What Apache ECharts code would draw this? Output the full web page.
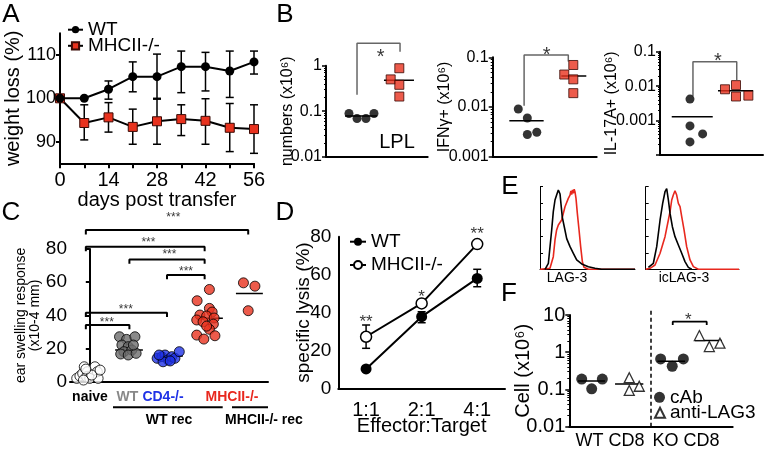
<!DOCTYPE html>
<html><head><meta charset="utf-8">
<script src="https://cdn.jsdelivr.net/npm/echarts@6/dist/echarts.min.js"></script>
<style>html,body{margin:0;padding:0;background:#fff}#c{width:767px;height:451px}</style>
</head><body><div id="c"></div>
<script>
// ================= DATA =================
// Panel A: weight (%) vs days post transfer
const aDays = [0, 7, 14, 21, 28, 35, 42, 49, 56];
const aWT   = [100, 100, 102.1, 105, 105, 107.3, 107.3, 106.3, 108.4];
const aWTHi = [100, 100, 104, 108.4, 110.2, 110.9, 110.6, 110.9, 110.9];
const aWTLo = [100, 100, 99.8, 101.5, 99.8, 101.3, 101.7, 100.2, 105.6];
const aKO   = [100, 94.3, 95.6, 93.4, 94.7, 95.2, 94.8, 93.2, 92.9];
const aKOHi = [100, 98.5, 99, 97.5, 100, 98.5, 99.9, 98.8, 98.5];
const aKOLo = [100, 90.4, 92.2, 89.4, 89.4, 91.4, 89.4, 87.7, 87.3];
const aYTicks = [90, 100, 110];

// Panel B (x10^6)
const b1WT = [0.089, 0.069, 0.069, 0.089];
const b1KO = [0.50, 0.88, 0.38, 0.21];
const b1Mean = [0.078, 0.48];
const b2WT = [0.0091, 0.006, 0.0028, 0.0031];
const b2KO = [0.045, 0.070, 0.036, 0.019];
const b2Mean = [0.0053, 0.042];
const b3WT = [0.0042, 0.0007, 0.00041, 0.00024];
const b3KO = [0.0081, 0.0107, 0.0050, 0.0053];
const b3Mean = [0.0013, 0.0074];

// Panel C: ear swelling response (x10-4 mm)
const cGroups = ['naive', 'WT', 'CD4-/-', 'MHCII-/-', 'MHCII-/- rec'];
const cNaive = [2.0, 3.4, 5.0, 9.0, 6.0, 3.0, 2.0, 9.0, 6.0, 2.0, 1.0, 4.0, 7.6, 7.0];
const cWT    = [27.1, 25.5, 27.1, 22.1, 21.1, 18.1, 19.1, 16.7, 16.1, 17.1, 22.1];
const cCD4   = [14.1, 15.1, 16.1, 13.1, 15.1, 14.1, 18.1, 12.0, 12.5, 16.1];
const cMHC   = [55.6, 48.8, 44.2, 42.0, 40.2, 39.6, 38.4, 37.2, 36.1, 34.7, 31.6, 28.1, 25.7, 27.7, 33.5];
const cRec   = [59.6, 57.6, 42.8];
const cMean  = [19.1, 15.5, 38.2, 53.2];

// Panel D: specific lysis (%)
const dCats = ['1:1', '2:1', '4:1'];
const dWT   = [10.2, 37.8, 58.0];
const dWTHi = [11.2, 40.4, 62.8];
const dWTLo = [9.2, 34.6, 53.6];
const dKO   = [27.2, 44.8, 76.1];
const dKOHi = [33.4, 46.3, 77.1];
const dKOLo = [21.1, 43.3, 75.1];
const dSig  = ['**', '*', '**'];

// Panel E: histograms [channel, % of max]
const e1Black = [[5.3,0],[8.8,7.3],[12.3,47.6],[14,69.8],[15.8,83.9],[17.5,89.9],[19.3,96],[20.4,96.8],[21.1,91.1],[22.1,79],[23.5,62.9],[25.6,51.2],[28.1,37.1],[31.6,27.4],[35.1,19.4],[38.6,11.3],[43.9,6.5],[50.9,3.2],[57.9,1.2],[64.9,0],[100,0]];
const e1Red = [[0,0],[10.5,1.2],[14,15.3],[15.8,35.5],[17.5,47.6],[19.3,53.6],[22.8,59.7],[26.3,75.8],[29.8,85.9],[31.6,89.9],[32.5,95],[33.3,90.5],[34.2,96],[35.1,91.9],[36,97],[36.8,93.9],[37.9,85.9],[39.3,67.7],[41.1,47.6],[42.8,27.4],[44.6,9.3],[46.3,2.4],[50.9,0],[100,0]];
const e2Black = [[2.9,2.4],[8.2,7.3],[11.8,27.4],[15.4,59.7],[18.2,79.8],[20.7,93.9],[22.5,97.6],[24.3,83.9],[26.1,67.7],[28.6,51.6],[31.4,39.5],[35,29.4],[38.6,19.4],[42.1,9.3],[45.7,2.4],[49.3,0]];
const e2Red = [[0,0],[4.6,1.2],[10,5.2],[15.4,19.4],[20.7,39.5],[24.3,59.7],[26.1,69.8],[27.9,83.9],[29.6,89.9],[31.4,95.2],[33.2,89.9],[35,79.8],[36.8,75.8],[37.7,78],[38.6,63.7],[41.1,47.6],[43.9,27.4],[47.5,11.3],[51.1,3.2],[56.4,0],[100,0]];

// Panel F: Cell (x10^6)
const fWTcAb = [0.19, 0.104, 0.19];
const fWTLag = [0.207, 0.094, 0.122];
const fKOcAb = [0.66, 0.42, 0.66];
const fKOLag = [2.8, 1.42, 1.75];
const fMean  = [0.168, 0.14, 0.57, 2.06];

// ================= LAYOUT (positions in axis units) =================
const FONT = '"Liberation Sans", Arial, Helvetica, sans-serif';
const RED = '#e8321e';
const b1Lay = {wx:[2.26,3.05,3.93,4.72], kx:[6.36,7.21,7.21,7.21], spans:[[1.87,5.01],[5.7,8.65]], br:[3.05,7.28,0.23,3.1,2.03], star:[5.38,2.0]};
const b2Lay = {wx:[2.46,3.33,3.33,4.24], kx:[6.88,7.75,7.75,7.75], spans:[[1.6,4.9],[6.6,9.0]], br:[3.02,7.27,0.0106,0.111,0.082], star:[5.19,0.136]};
const b3Lay = {wx:[2.91,2.91,4.14,2.91], kx:[6.31,7.38,7.38,8.58], spans:[[1.14,5.12],[5.63,9.05]], br:[3.2,7.45,0.005,0.051,0.015], star:[5.63,0.0736]};
const cJit = [
  [-0.33,-0.25,-0.18,-0.14,-0.06,-0.08,0.0,0.13,0.19,0.21,-0.16,0.05,-0.1,0.26],
  [0.75,0.93,1.14,0.81,0.97,0.86,1.06,0.78,0.97,1.17,1.1],
  [1.70,1.82,1.90,1.98,2.07,2.15,2.26,1.85,2.03,1.75],
  [3.02,2.71,3.02,3.09,2.78,2.95,3.14,2.70,2.86,3.12,3.02,2.70,2.88,3.16,2.95],
  [3.88,4.17,4.0]
];
const cSpans = [[0.64,1.34],[1.69,2.35],[2.70,3.36],[3.69,4.37]];
const cBrackets = [[-0.1,4.0,91.4],[-0.1,2.9,81.3],[1.0,2.9,73.7],[1.95,2.9,64.3],[-0.1,1.95,41.6],[-0.1,1.0,34.2]];
const cStars = [[2.11,100.7],[1.48,85.4],[2.01,78.4],[2.43,68.4],[0.91,45.2],[0.43,37.2]];
const dStarY = [36.9, 50.1, 83.2];
const fX = [[0.76,1.37,2.02],[3.67,3.67,4.28],[5.59,6.30,6.98],[7.96,8.57,9.22]];
const fSpans = [[0.53,2.18],[2.80,4.53],[5.39,7.08],[7.69,9.33]];

// ================= HELPERS =================
const pair = (xs, ys) => ys.map((v, i) => [xs[i], v]);
function errRender(capHalf) {
  return function (params, api) {
    const x = api.value(0), lo = api.value(1), hi = api.value(2);
    const a = api.coord([x, hi]), b = api.coord([x, lo]);
    const st = {stroke: '#000', lineWidth: 1.5};
    return {type: 'group', children: [
      {type: 'line', shape: {x1: a[0], y1: a[1], x2: b[0], y2: b[1]}, style: st},
      {type: 'line', shape: {x1: a[0]-capHalf, y1: a[1], x2: a[0]+capHalf, y2: a[1]}, style: st},
      {type: 'line', shape: {x1: b[0]-capHalf, y1: b[1], x2: b[0]+capHalf, y2: b[1]}, style: st}
    ]};
  };
}
function segLine(gi, pts, color, width, dash) {
  return {type: 'line', xAxisIndex: gi, yAxisIndex: gi, data: pts, symbol: 'none', clip: false, silent: true,
    lineStyle: {color: color, width: width, type: dash || 'solid'}, z: 1, animation: false};
}
function starSeries(gi, pts, texts, size, offY) {
  return {type: 'scatter', xAxisIndex: gi, yAxisIndex: gi, symbolSize: 1, clip: false, silent: true,
    itemStyle: {color: 'rgba(0,0,0,0)'},
    data: pts.map((p, i) => ({value: p, label: {formatter: texts[i]}})),
    label: {show: true, position: 'inside', color: '#000', fontSize: size, fontFamily: FONT, offset: [0, offY]}};
}
const axLine = (w) => ({show: true, lineStyle: {color: '#000', width: w}});
const hiddenX = (gi, min, max) => ({gridIndex: gi, type: 'value', min: min, max: max, axisLine: axLine(2),
  axisTick: {show: false}, axisLabel: {show: false}, splitLine: {show: false}});
function logY(gi, min, max, name, gap, fmt) {
  return {gridIndex: gi, type: 'log', logBase: 10, min: min, max: max,
    axisLine: axLine(2), axisTick: {length: 4, lineStyle: {width: 1.5, color: '#000'}},
    minorTick: {show: true, splitNumber: 9, length: 2, lineStyle: {color: '#000', width: 1}},
    axisLabel: {color: '#000', fontSize: 16, fontFamily: FONT, margin: 4,
      formatter: fmt || (v => String(+v.toPrecision(1)))},
    splitLine: {show: false}, minorSplitLine: {show: false},
    name: name, nameLocation: 'middle', nameGap: gap, nameMoveOverlap: false,
    nameTextStyle: {color: '#000', fontSize: 16, fontFamily: FONT}};
}
function bPanel(gi, wt, ko, mean, lay) {
  const out = [];
  const br = lay.br;
  out.push(segLine(gi, [[br[0], br[2]], [br[0], br[3]], [br[1], br[3]], [br[1], br[4]]], '#666', 1.5));
  out.push(segLine(gi, [[lay.spans[0][0], mean[0]], [lay.spans[0][1], mean[0]]], '#000', 1.5));
  out.push(segLine(gi, [[lay.spans[1][0], mean[1]], [lay.spans[1][1], mean[1]]], '#000', 1.5));
  out.push({type: 'scatter', xAxisIndex: gi, yAxisIndex: gi, data: pair(lay.wx, wt), symbol: 'circle', symbolSize: 9,
    itemStyle: {color: '#000'}, z: 3});
  out.push({type: 'scatter', xAxisIndex: gi, yAxisIndex: gi, data: pair(lay.kx, ko), symbol: 'rect', symbolSize: 9,
    itemStyle: {color: RED, borderColor: '#3a0a05', borderWidth: 1}, z: 3});
  out.push(starSeries(gi, [lay.star], ['*'], 20, 5));
  return out;
}

// ================= BUILD =================
const grid = [
  {left: 60, top: 33.3, width: 194, height: 130},      // 0 A
  {left: 326, top: 65.7, width: 101.7, height: 91},    // 1 B1
  {left: 492.7, top: 57.3, width: 104, height: 99.4},  // 2 B2
  {left: 660, top: 51.7, width: 103, height: 103.3},   // 3 B3
  {left: 70, top: 249, width: 198, height: 132.7},     // 4 C
  {left: 338.3, top: 236.7, width: 166.7, height: 151.6}, // 5 D
  {left: 540, top: 186.7, width: 95, height: 82.6},    // 6 E1
  {left: 645.7, top: 186.7, width: 93.3, height: 82.6},// 7 E2
  {left: 569.3, top: 315, width: 163.4, height: 111.7} // 8 F
].map(g => Object.assign(g, {outerBoundsMode: 'none', containLabel: false}));

const xAxis = [
  {gridIndex: 0, type: 'value', min: 0, max: 56, interval: 7, axisLine: axLine(2),
    axisTick: {length: 5, lineStyle: {width: 2, color: '#000'}},
    axisLabel: {color: '#000', fontSize: 20, fontFamily: FONT, margin: 7, formatter: v => (v % 14 === 0 ? String(v) : '')},
    splitLine: {show: false}, name: 'days post transfer', nameLocation: 'middle', nameGap: 27, nameMoveOverlap: false,
    nameTextStyle: {color: '#000', fontSize: 20, fontFamily: FONT}},
  hiddenX(1, 0, 10), hiddenX(2, 0, 10), hiddenX(3, 0, 10),
  hiddenX(4, -0.5, 4.5),
  {gridIndex: 5, type: 'category', data: dCats, boundaryGap: true, axisLine: axLine(2), axisTick: {show: false},
    axisLabel: {color: '#000', fontSize: 20, fontFamily: FONT, margin: 12},
    name: 'Effector:Target', nameLocation: 'middle', nameGap: 28, nameMoveOverlap: false,
    nameTextStyle: {color: '#000', fontSize: 20, fontFamily: FONT}},
  {gridIndex: 6, type: 'value', min: 0, max: 100, axisLine: axLine(1), axisTick: {show: false}, axisLabel: {show: false}, splitLine: {show: false}},
  {gridIndex: 7, type: 'value', min: 0, max: 100, axisLine: axLine(1), axisTick: {show: false}, axisLabel: {show: false}, splitLine: {show: false}},
  hiddenX(8, 0, 10)
];

const yAxis = [
  {gridIndex: 0, type: 'value', min: 85, max: 115, axisLine: axLine(2),
    axisTick: {length: 4, lineStyle: {width: 2, color: '#000'}, customValues: aYTicks},
    axisLabel: {color: '#000', fontSize: 18, fontFamily: FONT, margin: 4, customValues: aYTicks},
    splitLine: {show: false}, name: 'weight loss (%)', nameLocation: 'middle', nameGap: 37, nameMoveOverlap: false,
    nameTextStyle: {color: '#000', fontSize: 20, fontFamily: FONT}},
  logY(1, 0.01, 1, 'numbers (x10⁶)', 30),
  logY(2, 0.001, 0.1, 'IFNγ+ (x10⁶)', 40),
  logY(3, 0.0001, 0.1, 'IL-17A+ (x10⁶)', 40, v => (v < 0.0005 ? '' : String(+v.toPrecision(1)))),
  {gridIndex: 4, type: 'value', min: 0, max: 80, interval: 20, axisLine: axLine(2),
    axisTick: {length: 4, lineStyle: {width: 2, color: '#000'}},
    axisLabel: {color: '#000', fontSize: 19, fontFamily: FONT, margin: 3}, splitLine: {show: false},
    name: 'ear swelling response\n(x10-4 mm)', nameLocation: 'middle', nameGap: 28, nameMoveOverlap: false,
    nameTextStyle: {color: '#000', fontSize: 14, fontFamily: FONT, lineHeight: 14}},
  {gridIndex: 5, type: 'value', min: 0, max: 80, interval: 20, axisLine: axLine(2),
    axisTick: {length: 4, lineStyle: {width: 2, color: '#000'}},
    axisLabel: {color: '#000', fontSize: 19, fontFamily: FONT, margin: 7}, splitLine: {show: false},
    name: 'specific lysis (%)', nameLocation: 'middle', nameGap: 25, nameMoveOverlap: false,
    nameTextStyle: {color: '#000', fontSize: 19, fontFamily: FONT}},
  {gridIndex: 6, type: 'value', min: 0, max: 100, interval: 20, axisLine: axLine(1),
    axisTick: {show: true, inside: true, length: 3, lineStyle: {color: '#000', width: 1}}, axisLabel: {show: false}, splitLine: {show: false}},
  {gridIndex: 7, type: 'value', min: 0, max: 100, interval: 20, axisLine: axLine(1),
    axisTick: {show: true, inside: true, length: 3, lineStyle: {color: '#000', width: 1}}, axisLabel: {show: false}, splitLine: {show: false}},
  Object.assign(logY(8, 0.01, 10, 'Cell (x10⁶)', 36), {nameTextStyle: {color: '#000', fontSize: 20, fontFamily: FONT}})
];
yAxis[8].axisLabel.fontSize = 20;

const series = [];
// ---- A ----
series.push({type: 'custom', xAxisIndex: 0, yAxisIndex: 0, renderItem: errRender(4), z: 1, silent: true,
  data: aDays.map((d, i) => [d, aWTLo[i], aWTHi[i]]).filter(r => r[1] !== r[2]), encode: {x: 0, y: [1, 2]}});
series.push({type: 'custom', xAxisIndex: 0, yAxisIndex: 0, renderItem: errRender(4), z: 1, silent: true,
  data: aDays.map((d, i) => [d, aKOLo[i], aKOHi[i]]).filter(r => r[1] !== r[2]), encode: {x: 0, y: [1, 2]}});
series.push({name: 'MHCII-/-', type: 'line', xAxisIndex: 0, yAxisIndex: 0, data: pair(aDays, aKO), symbol: 'rect', symbolSize: 9,
  showAllSymbol: true, lineStyle: {color: '#000', width: 2}, itemStyle: {color: RED, borderColor: '#3a0a05', borderWidth: 1}, z: 3});
series.push({name: 'WT', type: 'line', xAxisIndex: 0, yAxisIndex: 0, data: pair(aDays, aWT), symbol: 'circle', symbolSize: 9,
  showAllSymbol: true, lineStyle: {color: '#000', width: 2}, itemStyle: {color: '#000'}, z: 4});
// ---- B ----
series.push(...bPanel(1, b1WT, b1KO, b1Mean, b1Lay));
series.push(...bPanel(2, b2WT, b2KO, b2Mean, b2Lay));
series.push(...bPanel(3, b3WT, b3KO, b3Mean, b3Lay));
// ---- C ----
cBrackets.forEach(b => series.push(segLine(4, [[b[0], b[2]-2.6], [b[0], b[2]], [b[1], b[2]], [b[1], b[2]-2.6]], '#000', 2)));
series.push(starSeries(4, cStars, cStars.map(() => '***'), 12, 3));
cMean.forEach((m, i) => series.push(segLine(4, [[cSpans[i][0], m], [cSpans[i][1], m]], '#000', 1.5)));
const cVals = [cNaive, cWT, cCD4, cMHC, cRec];
const cFill = ['#ffffff', '#6d6d6d', '#1f32e6', RED, RED];
cVals.forEach((vals, g) => series.push({type: 'scatter', xAxisIndex: 4, yAxisIndex: 4, name: cGroups[g],
  data: pair(cJit[g], vals), symbol: 'circle', symbolSize: 10,
  itemStyle: {color: cFill[g], borderColor: '#000', borderWidth: 1}, z: 3}));
// ---- D ----
series.push({type: 'custom', xAxisIndex: 5, yAxisIndex: 5, renderItem: errRender(4), z: 1, silent: true,
  data: dCats.map((c, i) => [i, dWTLo[i], dWTHi[i]]), encode: {x: 0, y: [1, 2]}});
series.push({type: 'custom', xAxisIndex: 5, yAxisIndex: 5, renderItem: errRender(4), z: 1, silent: true,
  data: dCats.map((c, i) => [i, dKOLo[i], dKOHi[i]]), encode: {x: 0, y: [1, 2]}});
series.push({name: 'WT ', type: 'line', xAxisIndex: 5, yAxisIndex: 5, data: dWT, symbol: 'circle', symbolSize: 11,
  lineStyle: {color: '#000', width: 2}, itemStyle: {color: '#000'}, z: 3});
series.push({name: 'MHCII-/- ', type: 'line', xAxisIndex: 5, yAxisIndex: 5, data: dKO, symbol: 'circle', symbolSize: 11,
  lineStyle: {color: '#000', width: 2}, itemStyle: {color: '#fff', borderColor: '#000', borderWidth: 1.5}, z: 3});
series.push(starSeries(5, dCats.map((c, i) => [i, dStarY[i]]), dSig, 17, 4));
// ---- E ----
[[6, e1Black, '#000'], [6, e1Red, '#e8281e'], [7, e2Black, '#000'], [7, e2Red, '#e8281e']].forEach(s =>
  series.push({type: 'line', xAxisIndex: s[0], yAxisIndex: s[0], data: s[1], symbol: 'none', silent: true,
    lineStyle: {color: s[2], width: 1.6}, z: s[2] === '#000' ? 3 : 2}));
// ---- F ----
series.push(segLine(8, [[5, 0.01], [5, 13.6]], '#000', 1.5, [4, 3]));
series.push(segLine(8, [[6.33, 5.4], [6.33, 6.6], [8.41, 6.6], [8.41, 5.4]], '#000', 1.8));
series.push(starSeries(8, [[7.28, 9.0]], ['*'], 17, 4));
fMean.forEach((m, i) => series.push(segLine(8, [[fSpans[i][0], m], [fSpans[i][1], m]], '#000', 1.5)));
const fVals = [fWTcAb, fWTLag, fKOcAb, fKOLag];
fVals.forEach((vals, g) => series.push({type: 'scatter', xAxisIndex: 8, yAxisIndex: 8,
  name: g % 2 === 0 ? 'cAb' : 'anti-LAG3', data: pair(fX[g], vals),
  symbol: g % 2 === 0 ? 'circle' : 'triangle', symbolSize: g % 2 === 0 ? 11 : 10,
  itemStyle: g % 2 === 0 ? {color: '#000'} : {color: '#fff', borderColor: '#000', borderWidth: 1.3}, z: 3}));

// ---- legends ----
const legBase = {padding: 0, selectedMode: false, itemWidth: 15, itemHeight: 9, itemGap: 0,
  textStyle: {fontSize: 19, fontFamily: FONT, color: '#000'}, formatter: n => n.trim()};
const legend = [
  Object.assign({}, legBase, {data: ['WT'], left: 67, top: 20.2}),
  Object.assign({}, legBase, {data: ['MHCII-/-'], left: 67, top: 36.3}),
  Object.assign({}, legBase, {data: ['WT '], left: 349, top: 232.2, itemWidth: 16, itemHeight: 10}),
  Object.assign({}, legBase, {data: ['MHCII-/- '], left: 349, top: 255.5, itemWidth: 16, itemHeight: 10}),
  Object.assign({}, legBase, {data: ['cAb'], left: 654, top: 387.8, itemWidth: 11, itemHeight: 11}),
  Object.assign({}, legBase, {data: ['anti-LAG3'], left: 654, top: 403.2, itemWidth: 10, itemHeight: 10})
];

// ---- text annotations ----
const txt = (x, y, t, size, opts) => ({type: 'text', x: x, y: y, silent: true, z: 10,
  style: Object.assign({text: t, fill: '#000', fontSize: size, fontFamily: FONT,
    align: 'center', verticalAlign: 'middle', textAlign: 'center', textVerticalAlign: 'middle'}, opts || {})});
const ln = (x1, y1, x2, y2, w) => ({type: 'line', silent: true, shape: {x1: x1, y1: y1, x2: x2, y2: y2}, style: {stroke: '#000', lineWidth: w}});
const graphic = [
  txt(11, 15, 'A', 26), txt(285, 15, 'B', 26), txt(11, 213, 'C', 26), txt(285, 213, 'D', 26),
  txt(510, 187, 'E', 26), txt(509, 294, 'F', 26),
  txt(397, 142, 'LPL', 20),
  txt(567, 278, 'LAG-3', 14), txt(684, 278, 'icLAG-3', 14),
  txt(90, 397, 'naive', 14, {fontWeight: 'bold'}),
  txt(127.5, 397, 'WT', 14, {fontWeight: 'bold', fill: '#888'}),
  txt(163, 397, 'CD4-/-', 14, {fontWeight: 'bold', fill: '#1f32e6'}),
  txt(232, 397, 'MHCII-/-', 14, {fontWeight: 'bold', fill: '#e8281e'}),
  ln(113, 407.3, 222.7, 407.3, 2), ln(232, 407.3, 268, 407.3, 2),
  txt(169, 420, 'WT rec', 14, {fontWeight: 'bold'}),
  txt(264, 420, 'MHCII-/- rec', 14, {fontWeight: 'bold'}),
  txt(610, 441, 'WT CD8', 18), txt(686, 441, 'KO CD8', 18)
];

const chart = echarts.init(document.getElementById('c'), null, {renderer: 'canvas'});
chart.setOption({animation: false, backgroundColor: '#fff', grid, xAxis, yAxis, series, legend, graphic,
  textStyle: {fontFamily: FONT}});
</script></body></html>
